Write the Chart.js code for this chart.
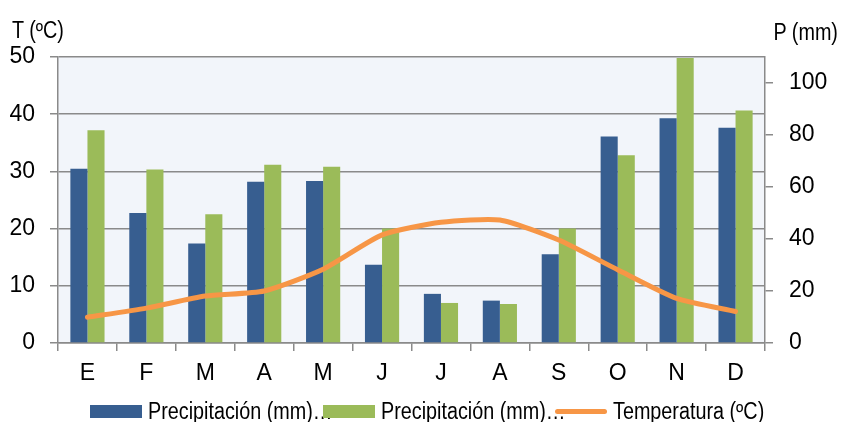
<!DOCTYPE html>
<html>
<head>
<meta charset="utf-8">
<script src="https://cdn.jsdelivr.net/npm/chart.js@4/dist/chart.umd.min.js"></script>
<style>
  html, body { margin: 0; padding: 0; background: #fff; }
  #wrap { position: relative; width: 842px; height: 422px; font-family: "Liberation Sans", Arial, sans-serif; color: #000; }
  canvas { position: absolute; left: 0; top: 0; }
  .title { position: absolute; font-size: 23px; line-height: 23px; white-space: nowrap; transform: scaleX(0.86); }
  #legend { position: absolute; left: 0; top: 399px; width: 842px; height: 24px; }
  .item { position: absolute; top: 0; display: flex; align-items: center; height: 24px; white-space: nowrap; }
  .txt { font-size: 23px; display: inline-block; transform: scaleX(0.86); transform-origin: left center; }
  .swatch { width: 52px; height: 13px; margin-right: 6px; flex: none; }
  .swatch.line { height: 5px; border-radius: 3px; }
</style>
</head>
<body>
<div id="wrap">
  <canvas id="climo" width="842" height="422"></canvas>
  <div class="title" style="left:12px; top:19px; transform-origin: left top;">T (ºC)</div>
  <div class="title" style="right:4px; top:21px; transform-origin: right top;">P (mm)</div>
  <div id="legend"></div>
</div>
<script>
const MONTHS = ["E", "F", "M", "A", "M", "J", "J", "A", "S", "O", "N", "D"];

// precipitation, mm (right axis)
const PRECIP_A = [67, 50, 38.3, 62, 62.3, 30.1, 18.9, 16.3, 34.1, 79.4, 86.4, 82.8];
const PRECIP_B = [81.8, 66.7, 49.5, 68.6, 67.8, 44, 15.4, 15, 44, 72.2, 109.6, 89.4];

// temperature, ºC (left axis)
const TEMP = [4.5, 6.1, 8.2, 9.1, 12.9, 18.9, 21.1, 21.5, 18.0, 12.8, 7.8, 5.5];

const T_TICKS = [0, 10, 20, 30, 40, 50];
const P_TICKS = [0, 20, 40, 60, 80, 100];

const LABELS = ["Precipitación (mm)…", "Precipitación (mm)…", "Temperatura (ºC)"];
const COLORS = ["#375E90", "#9BBB59", "#F79646"];
const LEGEND_X = [90, 323, 555];

const FONT = "'Liberation Sans', Arial, sans-serif";
const AXIS_GRAY = "#8A8A8A";

/* ---------------- PLOT BACKGROUND ---------------- */

const plotBg = {
  id: "plotBg",
  beforeDraw(chart) {
    const a = chart.chartArea;
    const ctx = chart.ctx;
    ctx.save();
    ctx.fillStyle = "#F2F5FA";
    ctx.fillRect(a.left, a.top, a.right - a.left, a.bottom - a.top);
    ctx.restore();
  }
};

/* ---------------- CHART ---------------- */

new Chart(document.getElementById("climo"), {
  data: {
    labels: MONTHS,
    datasets: [
      {
        type: "line",
        label: LABELS[2],
        data: TEMP,
        yAxisID: "y",
        borderColor: COLORS[2],
        borderWidth: 5,
        borderCapStyle: "round",
        pointRadius: 0,
        tension: 0.2,
        order: 0
      },
      {
        type: "bar",
        label: LABELS[0],
        data: PRECIP_A,
        yAxisID: "y2",
        backgroundColor: COLORS[0],
        categoryPercentage: 0.58,
        barPercentage: 1,
        order: 1
      },
      {
        type: "bar",
        label: LABELS[1],
        data: PRECIP_B,
        yAxisID: "y2",
        backgroundColor: COLORS[1],
        categoryPercentage: 0.58,
        barPercentage: 1,
        order: 1
      }
    ]
  },
  options: {
    responsive: false,
    animation: false,
    layout: { padding: { top: 57, bottom: 34, left: 0, right: 0 } },
    plugins: {
      legend: { display: false },
      tooltip: { enabled: false }
    },
    scales: {
      x: {
        grid: {
          offset: true,
          drawOnChartArea: false,
          color: AXIS_GRAY,
          lineWidth: 1.5,
          tickLength: 8
        },
        border: { color: AXIS_GRAY, width: 1.5 },
        ticks: { font: { family: FONT, size: 23 }, color: "#000", padding: 9 },
        afterFit: s => { s.height = 45; }
      },
      y: {
        position: "left",
        min: 0,
        max: 50,
        afterBuildTicks: s => { s.ticks = T_TICKS.map(v => ({ value: v })); },
        grid: { color: AXIS_GRAY, lineWidth: 1.5, tickLength: 8 },
        border: { color: AXIS_GRAY, width: 1.5 },
        ticks: { font: { family: FONT, size: 23 }, color: "#000", padding: 15 },
        afterFit: s => { s.width = 58; }
      },
      y2: {
        position: "right",
        min: 0,
        max: 110,
        afterBuildTicks: s => { s.ticks = P_TICKS.map(v => ({ value: v })); },
        grid: { drawOnChartArea: false, color: AXIS_GRAY, lineWidth: 1.5, tickLength: 8 },
        border: { color: AXIS_GRAY, width: 1.5 },
        ticks: { font: { family: FONT, size: 23 }, color: "#000", padding: 16 },
        afterFit: s => { s.width = 77; }
      }
    }
  },
  plugins: [plotBg]
});

/* ---------------- LEGEND ---------------- */

const legend = document.getElementById("legend");
LABELS.forEach((text, i) => {
  const item = document.createElement("div");
  item.className = "item";
  item.style.left = LEGEND_X[i] + "px";
  const sw = document.createElement("span");
  sw.className = i === 2 ? "swatch line" : "swatch";
  sw.style.background = COLORS[i];
  const label = document.createElement("span");
  label.className = "txt";
  label.textContent = text;
  item.appendChild(sw);
  item.appendChild(label);
  legend.appendChild(item);
});
</script>
</body>
</html>
